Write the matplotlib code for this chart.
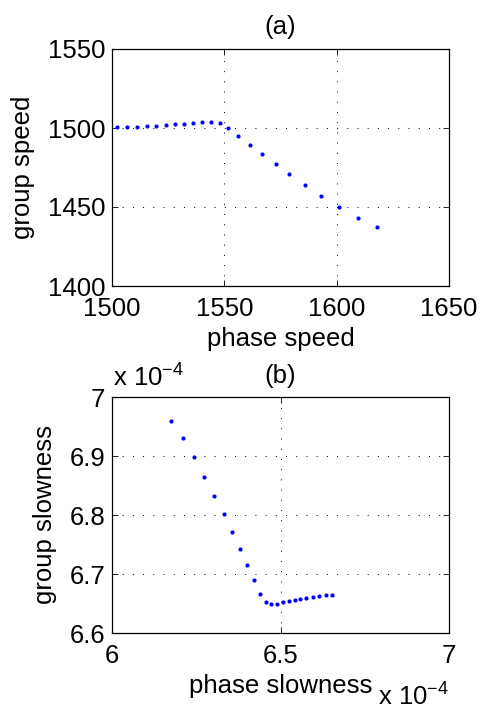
import numpy as np
import matplotlib.pyplot as plt

plt.rcParams['font.family'] = ['Liberation Sans', 'DejaVu Sans']
plt.rcParams['mathtext.fontset'] = 'custom'
plt.rcParams['mathtext.rm'] = 'Liberation Sans'

# (a) speeds
phase_speed = [1502.2, 1506.7, 1511.1, 1515.6, 1519.8, 1523.9, 1528.1, 1532.2,
               1536.1, 1540.1, 1544.0, 1548.0, 1551.8, 1556.3, 1561.3, 1566.7,
               1572.8, 1579.0, 1585.8, 1593.1, 1601.1, 1609.5, 1618.1]
group_speed = [1500.4, 1500.4, 1500.8, 1501.1, 1501.5, 1501.9, 1502.5, 1502.7,
               1503.2, 1503.8, 1504.0, 1503.2, 1500.2, 1495.1, 1489.2, 1483.3,
               1477.0, 1470.7, 1463.7, 1457.2, 1450.2, 1443.2, 1437.3]

# (b) slowness, in units of 1e-4
phase_slowness = [6.176, 6.211, 6.242, 6.273, 6.303, 6.331, 6.355, 6.379,
                  6.402, 6.422, 6.440, 6.457, 6.473, 6.490, 6.506, 6.524,
                  6.542, 6.559, 6.577, 6.596, 6.614, 6.634, 6.654]
group_slowness = [6.960, 6.931, 6.898, 6.865, 6.832, 6.801, 6.771, 6.743,
                  6.716, 6.689, 6.666, 6.653, 6.649, 6.650, 6.652, 6.654,
                  6.656, 6.658, 6.660, 6.661, 6.663, 6.664, 6.665]

fs = 18.5
W, H = 481, 715

fig = plt.figure(figsize=(W / 100, H / 100), dpi=100)
ax1 = fig.add_axes([112/W, 1 - 286/H, 337/W, 237/H])
ax2 = fig.add_axes([112/W, 1 - 633/H, 337/W, 236/H])


def style(ax):
    ax.tick_params(direction='in', length=4, width=0.6, top=True, right=True,
                   labelsize=fs)
    ax.tick_params(axis='x', pad=8)
    ax.tick_params(axis='y', pad=5)
    for s in ax.spines.values():
        s.set_linewidth(0.9)
    ax.grid(True, linestyle=(0, (1, 9.5)), color='black', linewidth=0.7)


ax1.plot(phase_speed, group_speed, 'o', color='blue', markersize=3, markeredgewidth=0)
ax1.set_xlim(1500, 1650)
ax1.set_ylim(1400, 1550)
ax1.set_xticks([1500, 1550, 1600, 1650])
ax1.set_yticks([1400, 1450, 1500, 1550])
style(ax1)
ax1.set_xlabel('phase speed', fontsize=fs, labelpad=4)
ax1.set_ylabel('group speed', fontsize=fs, labelpad=9)
ax1.set_title('(a)', fontsize=fs, pad=11)

ax2.plot(phase_slowness, group_slowness, 'o', color='blue', markersize=3, markeredgewidth=0)
ax2.set_xlim(6, 7)
ax2.set_ylim(6.6, 7.0)
ax2.set_xticks([6, 6.5, 7])
ax2.set_xticklabels(['6', '6.5', '7'])
ax2.set_yticks([6.6, 6.7, 6.8, 6.9, 7.0])
ax2.set_yticklabels(['6.6', '6.7', '6.8', '6.9', '7'])
style(ax2)
ax2.set_xlabel('phase slowness', fontsize=fs, labelpad=4)
ax2.set_ylabel('group slowness', fontsize=fs, labelpad=9)
ax2.set_title('(b)', fontsize=fs, pad=10)
fig.text(113/W, 1 - 386/H, r'x 10$^{-4}$', fontsize=fs, ha='left', va='baseline')
fig.text(378/W, 1 - 705/H, r'x 10$^{-4}$', fontsize=fs, ha='left', va='baseline')

fig.savefig('out.png', dpi=100)
